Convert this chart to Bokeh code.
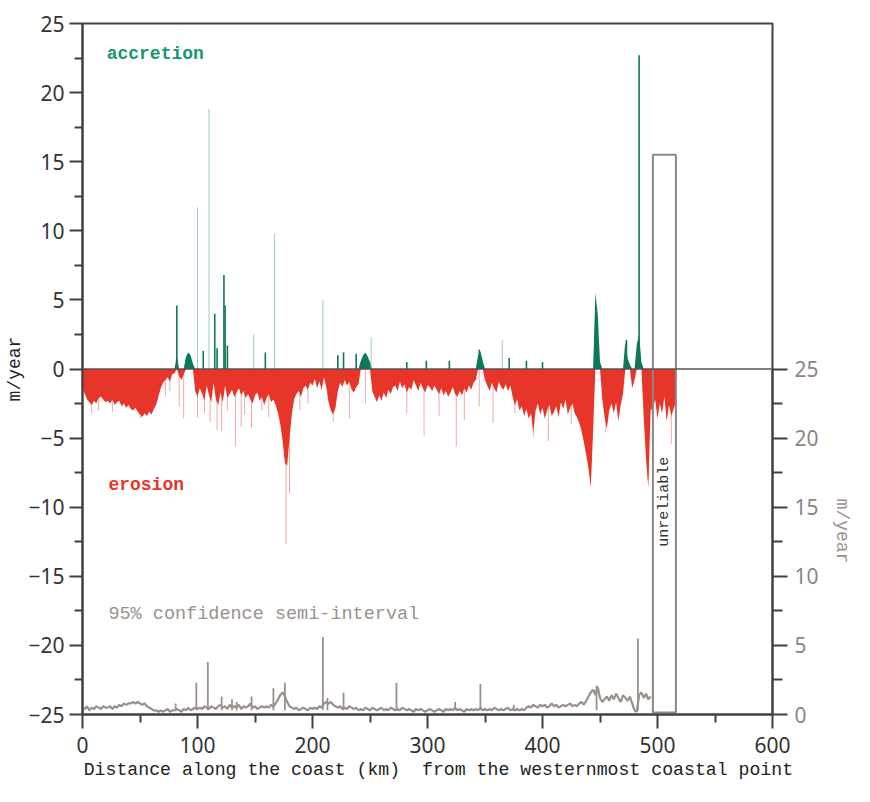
import math
from bokeh.plotting import figure
from bokeh.models import Range1d, LinearAxis, FixedTicker, Span, Label
from bokeh.embed import file_html
from bokeh.resources import INLINE

# ---------------- data ----------------
# shoreline change rate (m/year), sampled every 2 km from 0 to 516 km
rate_km = list(range(0, 517, 2))
rate_val = [
    -1.3, -1.8, -2.2, -2.4, -2.6, -2.3, -2.5, -2.1, -2.0, -2.2, -2.4,        # 0-20
    -2.3, -2.5, -2.2, -2.6, -2.4, -2.3, -2.7, -2.5, -2.8, -2.6,              # 22-40
    -2.9, -3.0, -2.8, -3.1, -3.3, -3.5, -3.2, -3.4, -3.1, -3.3, -2.9, -2.6, -2.0,  # 42-66
    -1.4, -1.0, -0.8, -0.6, -0.9, -0.4, -0.3,                                # 68-80
    1.0, -0.5, -0.8, -0.4, 0.9,                                              # 82-90
    1.2, 1.0, 0.4,                                                           # 92-96
    -1.6, -2.0, -1.4, -1.8, -2.3, -1.2, -1.9,                                # 98-110
    -2.4, -1.0, -2.2, -2.6, -1.7, -2.4, -1.2, -2.1,                          # 112-126
    -1.8, -1.5, -2.0, -1.7, -1.4, -1.9, -1.6, -2.1, -1.8,                    # 128-144
    -2.2, -2.5, -1.9, -1.7, -2.3, -2.0, -2.6, -2.1, -1.8, -2.4, -2.2,        # 146-166
    -2.6, -3.2, -4.0, -5.2, -6.8, -7.0, -5.0, -3.3, -2.2,                    # 168-184
    -1.8, -1.6, -2.0, -1.4, -1.2, -1.5, -1.0,                                # 186-198
    -1.2, -0.7, -1.4, -0.9, -1.5, -0.6, -1.3,                                # 200-212
    -2.4, -3.0, -3.3, -2.8, -1.6,                                            # 214-222
    -1.0, -1.3, -0.8, -1.2, -0.9,                                            # 224-232
    -1.5, -1.7, -1.3, -1.1,                                                  # 234-240
    0.6, 1.0, 1.2, 0.9, 0.5,                                                 # 242-250
    -1.6, -2.0, -2.4, -1.9, -2.3, -1.7, -2.1, -1.5, -1.8, -1.3,              # 252-270
    -1.2, -1.6, -0.9, -1.4, -1.1, -1.7, -1.3, -1.5, -0.8, -1.2, -1.6, -1.0, -1.4, -1.7, -1.2,  # 272-300
    -1.3, -1.6, -1.2, -1.5, -1.8, -1.4, -1.9, -1.6, -2.0, -1.7, -1.3,        # 302-322
    -1.8, -2.0, -1.6, -1.9, -1.4, -1.7, -1.2, -1.5, -1.0, -0.8,              # 324-342
    1.0, 1.3, 0.6,                                                           # 344-348
    -0.8, -1.2, -1.6, -1.0, -1.4, -1.7, -0.9, -1.3, -1.5, -1.1, -1.6, -1.2,  # 350-372
    -2.0, -2.6, -2.2, -3.0, -2.7, -3.4, -2.9, -3.6, -3.2, -4.6,              # 374-392
    -3.0, -2.5, -3.3, -2.8, -3.6, -3.0, -2.6, -3.4, -3.1, -2.7, -3.5,        # 394-414
    -2.4, -2.9, -2.2, -3.3, -2.8, -2.5, -3.2, -3.5, -3.9,                    # 416-432
    -4.5, -5.3, -6.2, -7.2, -8.6, -4.5,                                      # 434-444
    5.5, 4.0, 0.5,                                                           # 446-450
    -2.2, -3.5, -4.3, -3.0, -2.5, -3.2, -2.4, -3.8, -2.6, -1.8,              # 452-470
    2.0, 0.8, 0.3,                                                           # 472-476
    -1.4, -0.8,                                                              # 478-480
    1.8, 2.5, 0.5,                                                           # 482-486
    -3.5, -6.5, -8.6, -3.0,                                                  # 488-494
    -2.8, -2.2, -3.6, -2.5, -3.2, -2.0, -3.8, -2.6, -3.4, -2.9, -2.4,        # 496-516
]

# isolated narrow erosion peaks (m/year)
ero_spike_km = [8, 14, 26, 50, 72, 76, 84, 88, 100, 106, 111, 117, 121, 126, 133, 138,
                141, 147, 156, 162, 177, 180, 189, 196, 218, 232, 246, 282, 297, 310,
                325, 332, 345, 357, 376, 392, 405, 425, 455, 492, 512]
ero_spike_val = [-3.2, -3.0, -3.1, -3.6, -2.0, -1.6, -2.7, -3.6, -3.5, -3.2, -3.8, -4.4,
                 -4.5, -3.0, -5.6, -4.2, -3.3, -4.3, -3.0, -3.5, -12.7, -9.0, -3.0, -2.5,
                 -3.8, -3.6, -2.5, -3.2, -4.8, -3.4, -5.6, -3.7, -2.7, -3.9, -3.2, -4.9,
                 -5.2, -4.0, -4.6, -8.0, -5.4]

# isolated narrow accretion peaks (m/year): faint ones and solid ones
acc_thin_km = [100, 110, 149, 167, 209, 251, 365]
acc_thin_val = [11.7, 18.8, 2.5, 9.8, 5.0, 2.3, 2.1]
acc_peak_km = [82, 105, 115, 117, 123, 124, 126, 159, 222, 227, 238, 282, 299, 319,
               345, 371, 386, 400, 473, 484]
acc_peak_val = [4.6, 1.3, 4.0, 1.5, 6.8, 4.6, 1.7, 1.2, 1.0, 1.2, 1.1, 0.5, 0.6, 0.6,
                1.4, 0.8, 0.6, 0.5, 2.1, 22.7]

# 95% confidence semi-interval (m/year, right axis), every 2 km from 0 to 494 km
conf_km = list(range(0, 495, 2))
conf_val = [
    0.5, 0.4, 0.6, 0.3, 0.5, 0.4, 0.6, 0.5, 0.4, 0.6, 0.5,
    0.5, 0.6, 0.4, 0.6, 0.5, 0.7, 0.6, 0.8, 0.7, 0.8,
    0.8, 0.9, 0.8, 0.9, 0.8, 0.7, 0.8, 0.6, 0.5, 0.4,
    0.3, 0.3, 0.2, 0.3, 0.2, 0.3, 0.4, 0.2, 0.3, 0.3,
    0.4, 0.3, 0.2, 0.4, 0.3, 0.5, 0.3, 0.4, 0.5, 0.4,
    0.5, 0.4, 0.6, 0.5, 0.4, 0.6, 0.5, 0.4, 0.6, 0.7,
    0.5, 0.6, 0.4, 0.7, 0.5, 0.6, 0.5, 0.7, 0.4, 0.6,
    0.5, 0.6, 0.8, 0.5, 0.6, 0.4, 0.5, 0.6, 0.5, 0.6,
    0.5, 0.7, 0.6, 0.8, 1.1, 1.4, 1.6, 1.3, 0.9, 0.6,
    0.5, 0.4, 0.5, 0.3, 0.4, 0.5, 0.4, 0.3, 0.5, 0.4,
    0.5, 0.4, 0.6, 0.5, 0.8, 0.9, 0.8, 0.9, 0.7, 0.6,
    0.5, 0.6, 0.4, 0.5, 0.4, 0.6, 0.5, 0.4, 0.5, 0.3,
    0.4, 0.3, 0.5, 0.4, 0.3, 0.5, 0.4, 0.3, 0.4, 0.5,
    0.3, 0.4, 0.3, 0.5, 0.4, 0.3, 0.4, 0.3, 0.5, 0.4,
    0.3, 0.4, 0.3, 0.2, 0.4, 0.3, 0.4, 0.3, 0.2, 0.3,
    0.4, 0.3, 0.2, 0.3, 0.4, 0.3, 0.2, 0.4, 0.3, 0.4,
    0.3, 0.5, 0.3, 0.4, 0.3, 0.2, 0.4, 0.3, 0.4, 0.3,
    0.4, 0.3, 0.5, 0.3, 0.4, 0.3, 0.4, 0.3, 0.5, 0.4,
    0.3, 0.4, 0.3, 0.4, 0.5, 0.3, 0.4, 0.3, 0.4, 0.3,
    0.4, 0.3, 0.5, 0.6, 0.5, 0.7, 0.6, 0.5, 0.7, 0.6,
    0.7, 0.5, 0.6, 0.8, 0.6, 0.7, 0.5, 0.6, 0.7, 0.6,
    0.7, 0.8, 0.6, 0.7, 0.6, 0.8, 0.9, 0.7, 1.0, 1.3,
    1.6, 1.8, 1.4, 2.0, 1.2, 0.9, 1.1, 1.3, 1.0, 1.4,
    1.1, 1.5, 1.2, 0.9, 1.4, 1.2, 1.0, 1.3, 0.8, 0.3,
    0.2, 1.4, 1.6, 1.2, 1.5, 1.1, 1.3,
]
conf_spike_km = [81, 99, 109, 121, 130, 134, 147, 166, 176, 209, 213, 227, 273, 324, 346, 375, 447, 483]
conf_spike_val = [0.8, 2.3, 3.8, 1.3, 1.1, 0.9, 1.3, 1.9, 2.3, 5.6, 1.2, 1.6, 2.3, 0.9, 2.2, 0.7, 2.1, 5.5]

# unreliable stretch (km) and its box height (m/year)
unreliable_start, unreliable_end = 496, 516
unreliable_top = 15.5

x_ticks = [0, 100, 200, 300, 400, 500, 600]
y_ticks = [-25, -20, -15, -10, -5, 0, 5, 10, 15, 20, 25]
conf_ticks = [0, 5, 10, 15, 20, 25]

assert len(rate_km) == len(rate_val)
assert len(conf_km) == len(conf_val)

# ---------------- styling ----------------
RED = "#e8352a"
PINK = "#eeaaa2"
GREEN = "#0f785b"
GREEN_LIGHT = "#9fcabd"
GREEN_TXT = "#1a9570"
GREY = "#9c908b"
GREY_BOX = "#8d8683"
DARK = "#404040"
TICK_FONT = "Noto Sans"
MONO = "Liberation Mono"
NB = "\u00a0"

p = figure(width=854, height=786,
           x_range=Range1d(0, 600), y_range=Range1d(-25, 25),
           output_backend="svg", toolbar_location=None,
           min_border_left=82, min_border_right=81,
           min_border_top=23, min_border_bottom=72)
p.extra_y_ranges = {"conf": Range1d(0, 50)}
p.grid.visible = False
p.outline_line_color = DARK
p.outline_line_width = 2
p.background_fill_color = "white"
p.border_fill_color = "white"

# x axis
xa = p.xaxis[0]
xa.ticker = FixedTicker(ticks=x_ticks, minor_ticks=[50, 150, 250, 350, 450, 550])
xa.axis_line_color = DARK
xa.axis_line_width = 2
xa.major_tick_line_color = DARK
xa.minor_tick_line_color = DARK
xa.major_tick_line_width = 2
xa.minor_tick_line_width = 2
xa.major_tick_out = 14
xa.major_tick_in = 0
xa.minor_tick_out = 8
xa.minor_tick_in = 0
xa.major_label_standoff = 8
xa.major_label_text_font = TICK_FONT
xa.major_label_text_font_size = "21px"
xa.major_label_text_color = "#333333"
xa.axis_label = NB * 2 + "Distance along the coast (km)" + NB + " from the westernmost coastal point"
xa.axis_label_text_font = MONO
xa.axis_label_text_font_style = "normal"
xa.axis_label_text_font_size = "18.2px"
xa.axis_label_text_color = "#222222"
xa.axis_label_standoff = 4

# left axis
ya = p.yaxis[0]
ya.ticker = FixedTicker(ticks=y_ticks,
                        minor_ticks=[-22.5, -17.5, -12.5, -7.5, -2.5, 2.5, 7.5, 12.5, 17.5, 22.5])
ya.axis_line_color = DARK
ya.axis_line_width = 2
ya.major_tick_line_color = DARK
ya.minor_tick_line_color = DARK
ya.major_tick_line_width = 2
ya.minor_tick_line_width = 2
ya.major_tick_out = 13
ya.major_tick_in = 0
ya.minor_tick_out = 8
ya.minor_tick_in = 0
ya.major_label_standoff = 5
ya.major_label_text_font = TICK_FONT
ya.major_label_text_font_size = "21px"
ya.major_label_text_color = "#333333"
ya.axis_label = "m/year"
ya.axis_label_text_font = MONO
ya.axis_label_text_font_style = "normal"
ya.axis_label_text_font_size = "18px"
ya.axis_label_text_color = "#222222"
ya.axis_label_standoff = 0

# right axis (confidence semi-interval)
ra = LinearAxis(y_range_name="conf", bounds=(0, 25),
                ticker=FixedTicker(ticks=conf_ticks,
                                   minor_ticks=[2.5, 7.5, 12.5, 17.5, 22.5]))
ra.axis_line_color = DARK
ra.axis_line_width = 2
ra.major_tick_line_color = DARK
ra.minor_tick_line_color = DARK
ra.major_tick_line_width = 2
ra.minor_tick_line_width = 2
ra.major_tick_out = 15
ra.major_tick_in = 0
ra.minor_tick_out = 10
ra.minor_tick_in = 0
ra.major_label_standoff = 7
ra.major_label_text_font = TICK_FONT
ra.major_label_text_font_size = "21px"
ra.major_label_text_color = "#8f8580"
# the label is centred on the whole frame; leading no-break spaces move it
# down beside the 0-25 scale, as in the original
ra.axis_label = NB * 30 + "m/year"
ra.axis_label_text_font = MONO
ra.axis_label_text_font_style = "normal"
ra.axis_label_text_font_size = "18px"
ra.axis_label_text_color = "#9a8f8a"
ra.axis_label_standoff = 10
p.add_layout(ra, "right")

# ---------------- glyphs ----------------
zeros_e = [0] * len(ero_spike_km)
p.segment(x0=ero_spike_km, y0=zeros_e, x1=ero_spike_km, y1=ero_spike_val,
          line_color=PINK, line_width=1)

neg = [min(v, 0) for v in rate_val]
pos = [max(v, 0) for v in rate_val]
p.varea(x=rate_km, y1=[0] * len(rate_km), y2=neg, fill_color=RED)
p.varea(x=rate_km, y1=[0] * len(rate_km), y2=pos, fill_color=GREEN)

p.segment(x0=acc_thin_km, y0=[0] * len(acc_thin_km), x1=acc_thin_km, y1=acc_thin_val,
          line_color=GREEN_LIGHT, line_width=1)
p.segment(x0=acc_peak_km, y0=[0] * len(acc_peak_km), x1=acc_peak_km, y1=acc_peak_val,
          line_color=GREEN, line_width=1.6)

p.line(conf_km, conf_val, y_range_name="conf", line_color=GREY, line_width=2.2)
p.segment(x0=conf_spike_km, y0=[0.3] * len(conf_spike_km), x1=conf_spike_km, y1=conf_spike_val,
          y_range_name="conf", line_color=GREY, line_width=1.8)

p.add_layout(Span(location=0, dimension="width", line_color="#555555", line_width=1.5))

p.quad(left=[unreliable_start], right=[unreliable_end], bottom=[-24.85], top=[unreliable_top],
       fill_alpha=0, line_color=GREY_BOX, line_width=2)

# ---------------- labels ----------------
p.add_layout(Label(x=21, y=22.8, text="accretion", text_font=MONO, text_font_style="bold",
                   text_font_size="18px", text_color=GREEN_TXT, text_baseline="middle"))
p.add_layout(Label(x=22.5, y=-8.4, text="erosion", text_font=MONO, text_font_style="bold",
                   text_font_size="18px", text_color=RED, text_baseline="middle"))
p.add_layout(Label(x=22.5, y=-17.8, text="95% confidence semi-interval", text_font=MONO,
                   text_font_size="18.5px", text_color=GREY, text_baseline="middle"))
p.add_layout(Label(x=(unreliable_start + unreliable_end) / 2, y=-9.6, text="unreliable",
                   angle=math.pi / 2, text_font=MONO, text_font_size="15px",
                   text_color="#333333", text_align="center", text_baseline="middle"))

open("out.html", "w").write(file_html(p, INLINE))
